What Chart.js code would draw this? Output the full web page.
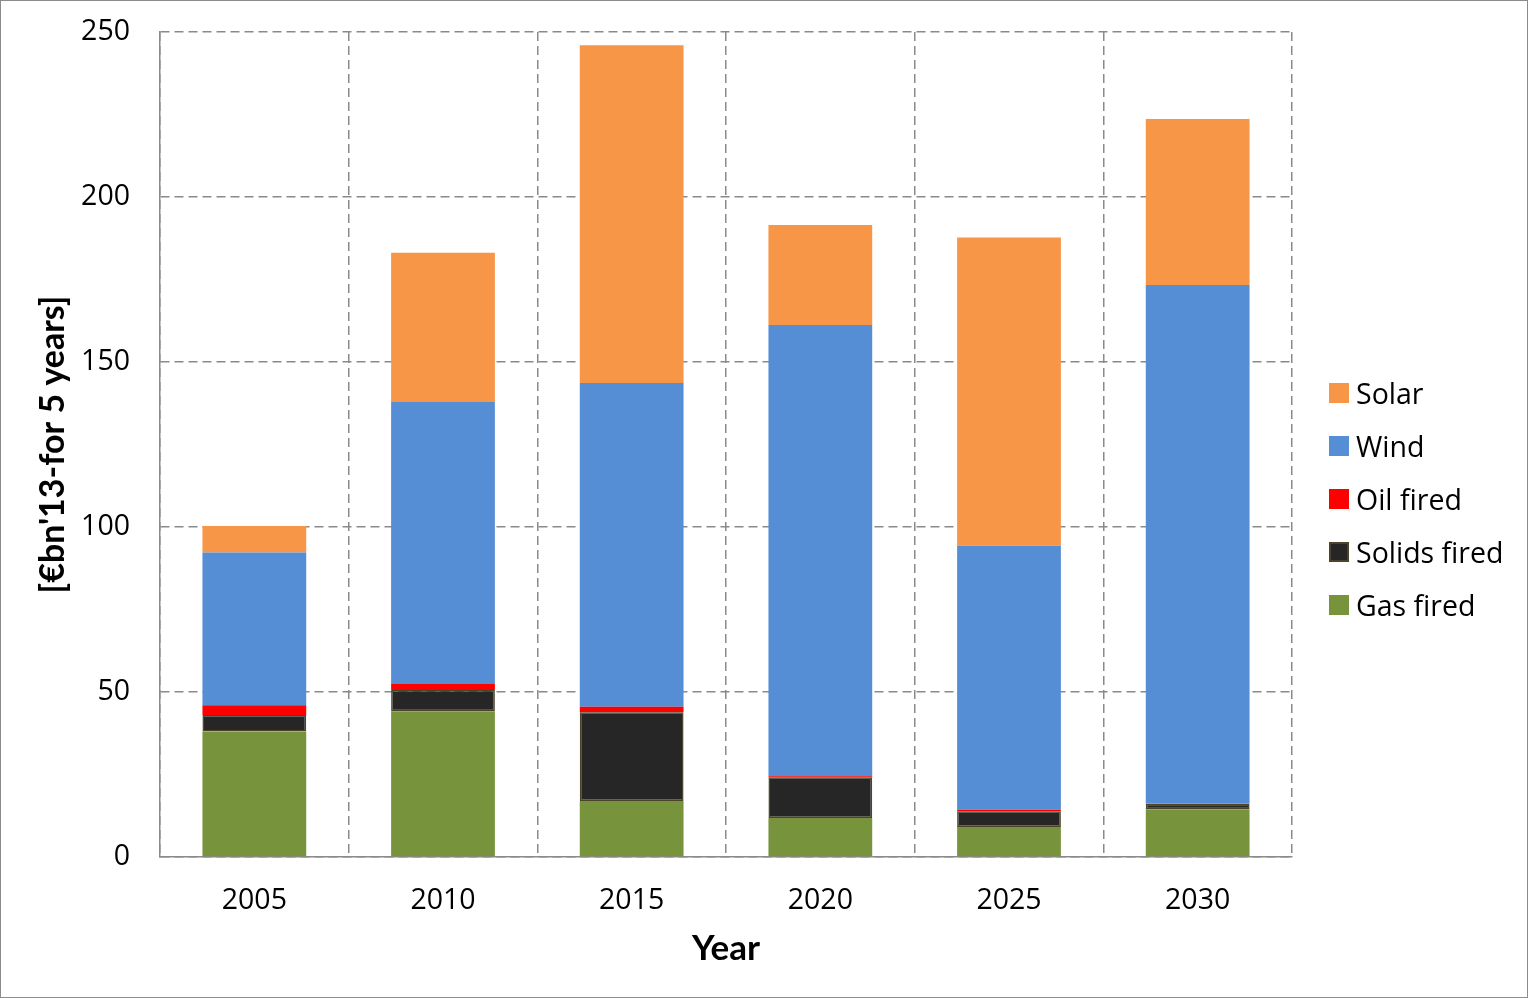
<!DOCTYPE html>
<html>
<head>
<meta charset="utf-8">
<script src="https://cdn.jsdelivr.net/npm/chart.js@4.4.1/dist/chart.umd.min.js"></script>
<style>
  html, body { margin: 0; padding: 0; background: #fff; }
  #wrap { position: relative; width: 1528px; height: 998px; }
  #frame { position: absolute; left: 0; top: 0; width: 1528px; height: 998px; box-sizing: border-box; border: 1px solid #8c8c8c; pointer-events: none; }
  #legend { position: absolute; left: 1329px; top: 378px; font-family: "Open Sans", sans-serif; font-size: 28.5px; color: #000; }
  .item { position: absolute; left: 0; height: 30px; white-space: nowrap; display: flex; align-items: center; }
  .box { width: 20px; height: 20px; box-sizing: border-box; margin-right: 7px; }
</style>
</head>
<body>
<div id="wrap">
  <canvas id="chart" width="1528" height="998"></canvas>
  <div id="legend"></div>
  <div id="frame"></div>
</div>
<script>
  // data
  const years = ['2005', '2010', '2015', '2020', '2025', '2030'];
  const gasFired    = [38.0, 44.2, 17.0, 11.8,  9.1, 14.5];
  const solidsFired = [ 5.0,  6.4, 26.9, 12.4,  4.8,  1.6];
  const oilFired    = [ 3.0,  1.8,  1.6,  0.3,  0.4,  0.1];
  const wind        = [46.3, 85.5, 98.1, 136.7, 80.0, 157.1];
  const solar       = [ 8.0, 45.2, 102.4, 30.3, 93.4, 50.3];
  const yTicks = [0, 50, 100, 150, 200, 250];

  const series = [
    { label: 'Gas fired',    data: gasFired,    color: '#77933C' },
    { label: 'Solids fired', data: solidsFired, color: '#262626', border: '#4a452a' },
    { label: 'Oil fired',    data: oilFired,    color: '#FF0000' },
    { label: 'Wind',         data: wind,        color: '#558ED5' },
    { label: 'Solar',        data: solar,       color: '#F79646' }
  ];

  const gridColor = '#8a8a8a';

  new Chart(document.getElementById('chart'), {
    type: 'bar',
    data: {
      labels: years,
      datasets: series.map(s => ({
        label: s.label,
        data: s.data,
        backgroundColor: s.color,
        borderColor: s.border || s.color,
        borderWidth: s.border ? 1.5 : 0,
        borderSkipped: false,
        barPercentage: 0.55,
        categoryPercentage: 1.0
      }))
    },
    options: {
      responsive: false,
      animation: false,
      devicePixelRatio: 1,
      layout: { padding: { left: 0, top: 32, right: 236, bottom: 0 } },
      plugins: {
        legend: { display: false },
        tooltip: { enabled: false }
      },
      scales: {
        x: {
          stacked: true,
          afterFit: scale => { scale.height = 141; },
          grid: { offset: true, color: gridColor, lineWidth: 1.5, drawTicks: false },
          border: { display: true, color: gridColor, width: 1.5, dash: [9, 5] },
          ticks: { color: '#000', padding: 27, font: { family: 'Open Sans', size: 28.5 } },
          title: {
            display: true, text: 'Year', color: '#000',
            font: { family: 'Lato', size: 35, weight: 'bold' },
            padding: { top: 0, bottom: 28 }
          }
        },
        y: {
          stacked: true,
          min: 0,
          max: 250,
          afterFit: scale => {
            scale.width = 160;
            scale.paddingTop = 0;
            scale.paddingBottom = 0;
          },
          afterBuildTicks: scale => { scale.ticks = yTicks.map(v => ({ value: v })); },
          grid: { color: gridColor, lineWidth: 1.5, drawTicks: false },
          border: { display: true, color: gridColor, width: 1.5, dash: [9, 5] },
          ticks: { color: '#000', padding: 30, font: { family: 'Open Sans', size: 28.5 } },
          title: {
            display: true, text: "[€bn'13-for 5 years]", color: '#000',
            font: { family: 'Lato', size: 34, weight: 'bold' },
            padding: { top: 33, bottom: 33 }
          }
        }
      }
    }
  });

  // legend, top to bottom in reverse stack order
  const legend = document.getElementById('legend');
  series.slice().reverse().forEach((s, i) => {
    const item = document.createElement('div');
    item.className = 'item';
    item.style.top = (i * 53) + 'px';
    const box = document.createElement('span');
    box.className = 'box';
    box.style.background = s.color;
    if (s.border) box.style.border = '2px solid ' + s.border;
    item.appendChild(box);
    item.appendChild(document.createTextNode(s.label));
    legend.appendChild(item);
  });
</script>
</body>
</html>
